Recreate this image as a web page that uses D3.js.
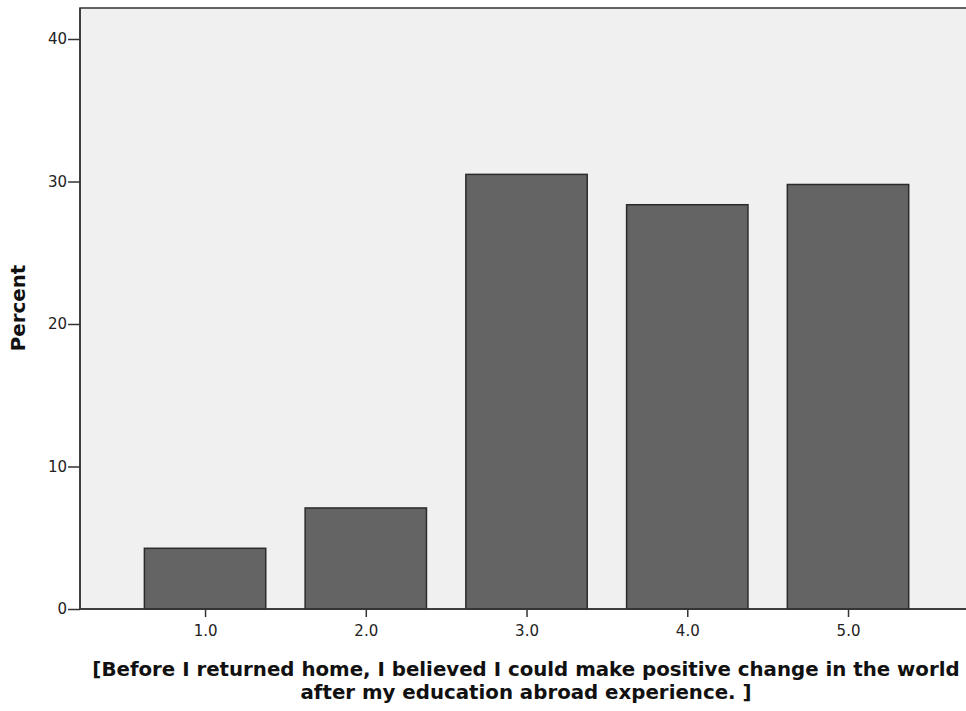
<!DOCTYPE html>
<html><head><meta charset="utf-8">
<script src="https://cdn.jsdelivr.net/npm/d3@7"></script>
<style>body{margin:0;background:#fff;} svg{display:block;font-family:"DejaVu Sans",Verdana,sans-serif;}</style>
</head><body>
<svg id="c" width="966" height="711"></svg>
<script>
const categories = [1, 2, 3, 4, 5];
const categoryLabels = ["1.0", "2.0", "3.0", "4.0", "5.0"];
const percents = [4.26, 7.09, 30.50, 28.37, 29.79];
const yTicks = [0, 10, 20, 30, 40];
const xTitleLines = ["[Before I returned home, I believed I could make positive change in the world", "after my education abroad experience. ]"];
const yTitle = "Percent";

const svg = d3.select("#c");
const L = 80, R = 966, T = 8, B = 609;
const x = d3.scaleLinear().domain([0.222, 5.734]).range([L, R]);
const y = d3.scaleLinear().domain([0, 40]).range([B, 39]);
const bw = x(1.377) - x(0.622);

svg.append("rect").attr("x", L).attr("y", T).attr("width", R - L + 5).attr("height", B - T)
  .attr("fill", "#f0f0f0").attr("stroke", "#333").attr("stroke-width", 1.5);

svg.selectAll("rect.bar").data(categories).enter().append("rect").attr("class", "bar")
  .attr("x", (d) => x(d) - bw / 2).attr("width", bw)
  .attr("y", (d, i) => y(percents[i])).attr("height", (d, i) => y(0) - y(percents[i]))
  .attr("fill", "#646464").attr("stroke", "#2b2b2b").attr("stroke-width", 1.5);

const yAxis = d3.axisLeft(y).tickValues(yTicks).tickSize(12).tickPadding(1).tickFormat(d3.format("d"));
const gy = svg.append("g").attr("transform", `translate(${L},0)`).call(yAxis);
gy.select(".domain").remove();
gy.selectAll("line").attr("stroke", "#333").attr("stroke-width", 1.5);
gy.selectAll("text").attr("font-size", 15).attr("fill", "#222").attr("font-family", "DejaVu Sans");

const xAxis = d3.axisBottom(x).tickValues(categories).tickSize(8).tickPadding(8)
  .tickFormat((d, i) => categoryLabels[i]);
const gx = svg.append("g").attr("transform", `translate(0,${B})`).call(xAxis);
gx.select(".domain").remove();
gx.selectAll("line").attr("stroke", "#333").attr("stroke-width", 1.5);
gx.selectAll("text").attr("font-size", 15).attr("fill", "#222").attr("font-family", "DejaVu Sans");

svg.append("line").attr("x1", L).attr("x2", R + 5).attr("y1", B).attr("y2", B).attr("stroke", "#333").attr("stroke-width", 1.5);
svg.append("line").attr("x1", L).attr("x2", L).attr("y1", T).attr("y2", B).attr("stroke", "#333").attr("stroke-width", 1.5);

svg.append("text").attr("transform", "translate(25,308) rotate(-90)")
  .attr("text-anchor", "middle").attr("font-size", 19.8).attr("font-weight", "bold").attr("fill", "#111").text(yTitle);

svg.selectAll("text.xt").data(xTitleLines).enter().append("text").attr("class", "xt")
  .attr("x", 526).attr("y", (d, i) => 676 + i * 23)
  .attr("text-anchor", "middle").attr("font-size", 19.8).attr("font-weight", "bold").attr("fill", "#111").text((d) => d);
</script>
</body></html>
